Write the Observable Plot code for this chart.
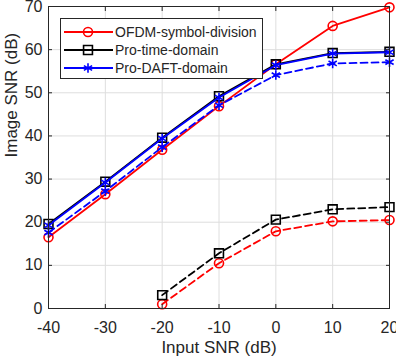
<!DOCTYPE html>
<html>
<head>
<meta charset="utf-8">
<script src="https://cdn.jsdelivr.net/npm/d3@7"></script>
<script src="https://cdn.jsdelivr.net/npm/@observablehq/plot@0.6"></script>
<style>
  html, body { margin: 0; padding: 0; background: #fff; }
  #wrap { position: relative; width: 396px; height: 358px; font-family: "Liberation Sans", Arial, sans-serif; }
  #legend { position: absolute; left: 60px; top: 18px; }
</style>
</head>
<body>
<div id="wrap"></div>
<script>
// ---- data ----
const inputSNR = [-40, -30, -20, -10, 0, 10, 20];
const ofdmSolid = [16.5, 26.5, 36.8, 46.9, 56.6, 65.5, 69.8];
const timeSolid = [19.6, 29.4, 39.6, 49.2, 56.6, 59.2, 59.5];
const daftSolid = [19.3, 29.2, 39.4, 48.9, 56.4, 59.1, 59.4];
const inputSNRLow = [-20, -10, 0, 10, 20];
const ofdmDashed = [1.0, 10.5, 17.9, 20.2, 20.5];
const timeDashed = [3.1, 12.8, 20.6, 23.0, 23.5];
const daftDashed = [17.6, 27.2, 37.4, 47.1, 54.1, 56.8, 57.1];
const xTicks = [-40, -30, -20, -10, 0, 10, 20];
const yTicks = [0, 10, 20, 30, 40, 50, 60, 70];
const seriesNames = ["OFDM-symbol-division", "Pro-time-domain", "Pro-DAFT-domain"];
const seriesColors = ["#ff0000", "#000000", "#0000ff"];
const seriesSymbols = ["circle", "square", "asterisk"];
const seriesR = [4.5, 5, 4.5];

const mk = (xs, ys) => xs.map((x, i) => ({x, y: ys[i]}));
const solid = [mk(inputSNR, ofdmSolid), mk(inputSNR, timeSolid), mk(inputSNR, daftSolid)];
const dashed = [mk(inputSNRLow, ofdmDashed), mk(inputSNRLow, timeDashed), mk(inputSNR, daftDashed)];

const ink = "#262626";
const fmt = d => String(d);
const marks = [
  Plot.gridX(xTicks, {stroke: "#dedede", strokeOpacity: 1}),
  Plot.gridY(yTicks, {stroke: "#dedede", strokeOpacity: 1}),
];
function addSeries(data, i, dash) {
  marks.push(Plot.line(data, {x: "x", y: "y", stroke: seriesColors[i], strokeWidth: 1.8, strokeDasharray: dash ? "7,4" : null}));
  marks.push(Plot.dot(data, {x: "x", y: "y", stroke: seriesColors[i], symbol: seriesSymbols[i], r: seriesR[i], strokeWidth: 1.6, fill: "none"}));
}
solid.forEach((d, i) => addSeries(d, i, false));
dashed.forEach((d, i) => addSeries(d, i, true));
marks.push(
  Plot.frame({stroke: ink, strokeWidth: 1}),
  Plot.axisX(xTicks, {anchor: "bottom", tickSize: 0, tickPadding: 13, fontSize: 16, color: ink, label: null, tickFormat: fmt}),
  Plot.axisY(yTicks, {anchor: "left", tickSize: 0, tickPadding: 6, fontSize: 16, color: ink, label: null, tickFormat: fmt}),
  Plot.axisX(xTicks, {anchor: "bottom", tickSize: -4, text: null, label: null, color: ink}),
  Plot.axisX(xTicks, {anchor: "top", tickSize: -4, text: null, label: null, color: ink}),
  Plot.axisY(yTicks, {anchor: "left", tickSize: -4, text: null, label: null, color: ink}),
  Plot.axisY(yTicks, {anchor: "right", tickSize: -4, text: null, label: null, color: ink}),
  Plot.text(["Input SNR (dB)"], {frameAnchor: "bottom", dy: 44, text: d => d, fontSize: 17, fill: ink}),
  Plot.text(["Image SNR (dB)"], {frameAnchor: "left", dx: -37, rotate: -90, text: d => d, fontSize: 17, fill: ink})
);

const chart = Plot.plot({
  width: 396,
  height: 358,
  marginLeft: 48,
  marginRight: 7,
  marginTop: 6,
  marginBottom: 50,
  style: {fontFamily: "'Liberation Sans', Arial, sans-serif", background: "#fff", overflow: "visible"},
  x: {domain: [-40, 20]},
  y: {domain: [0, 70]},
  marks
});
const wrap = document.getElementById("wrap");
wrap.appendChild(chart);

// ---- legend ----
const lw = 202, lh = 60;
const leg = d3.select(wrap).append("svg").attr("id", "legend").attr("width", lw + 1).attr("height", lh + 1);
leg.append("rect").attr("x", 0.5).attr("y", 0.5).attr("width", lw).attr("height", lh)
  .attr("fill", "#fff").attr("stroke", ink).attr("stroke-width", 1);
const symMap = {circle: d3.symbolCircle, square: d3.symbolSquare, asterisk: d3.symbolAsterisk};
seriesNames.forEach((name, i) => {
  const cy = 14 + i * 18;
  const g = leg.append("g");
  g.append("line").attr("x1", 4).attr("x2", 53).attr("y1", cy).attr("y2", cy)
    .attr("stroke", seriesColors[i]).attr("stroke-width", 1.8);
  g.append("path").attr("transform", `translate(28,${cy})`)
    .attr("d", d3.symbol(symMap[seriesSymbols[i]], Math.PI * seriesR[i] * seriesR[i])())
    .attr("fill", "none").attr("stroke", seriesColors[i]).attr("stroke-width", 1.6);
  g.append("text").attr("x", 55).attr("y", cy).attr("dy", "0.35em")
    .attr("font-size", 14).attr("fill", ink)
    .attr("font-family", "'Liberation Sans', Arial, sans-serif").text(name);
});
</script>
</body>
</html>
